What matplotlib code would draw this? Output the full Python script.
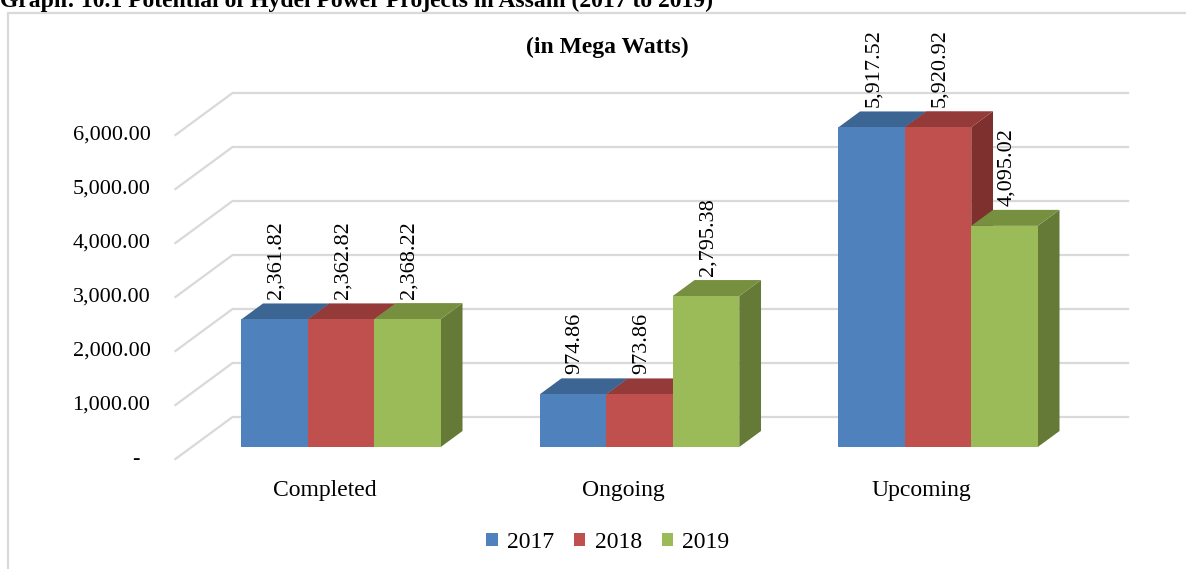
import matplotlib
matplotlib.use('Agg')
import matplotlib.pyplot as plt
from matplotlib.patches import Polygon, Patch, Rectangle

plt.rcParams['font.family'] = ['Liberation Serif', 'DejaVu Serif']

# ---------------- data ----------------
categories = ['Completed', 'Ongoing', 'Upcoming']
years = ['2017', '2018', '2019']
mw_2017 = [2361.82, 974.86, 5917.52]
mw_2018 = [2362.82, 973.86, 5920.92]
mw_2019 = [2368.22, 2795.38, 4095.02]
yticks = [0, 1000, 2000, 3000, 4000, 5000, 6000]

series = [mw_2017, mw_2018, mw_2019]
front_c = ['#4F81BD', '#C0504D', '#9BBB59']
top_c = ['#3D6594', '#943A38', '#77903F']
side_c = ['#34557E', '#7E302E', '#657A37']

# pseudo-3d geometry (pixel based)
W, H = 1186, 569
sx = 298.5          # px per category
sy = 0.054          # px per MW
x0px, y0px = 341, 447

def P(c, v, t):
    # shift a point by depth t (px up), 1.36 px right per px up
    return (c + 1.36 * t / sx, v + t / sy)

fig = plt.figure(figsize=(W / 100, H / 100), dpi=100)
ax = fig.add_axes([0, 0, 1, 1])
ax.set_xlim(-x0px / sx, (W - x0px) / sx)
ax.set_ylim(-(H - y0px) / sy, y0px / sy)
ax.axis('off')

grid_col = '#D9D9D9'
t_front, t_bar, t_back = -12, 16, 30
cl, cr = -0.5, 2.5

# walls: diagonal on left side + back gridlines
for v in yticks:
    a = P(cl, v, t_front); b = P(cl, v, t_back); c = P(cr, v, t_back)
    ax.plot([a[0], b[0], c[0]], [a[1], b[1], c[1]], color=grid_col, lw=1.6, zorder=1)
    lp = P(cl, v, t_front)
    if v == 0:
        ax.text(lp[0] - 36 / sx, lp[1], '-', ha='right', va='center', fontsize=16, zorder=5)
    else:
        ax.text(lp[0] - 25 / sx, lp[1], f'{v:,.2f}', ha='right', va='center', fontsize=16, zorder=5)

# bars
bw = 0.2228
for i, cat in enumerate(categories):
    left = i - 1.5 * bw
    for j in range(3):
        v = series[j][i]
        x1, x2 = left + j * bw, left + (j + 1) * bw
        front = [(x1, 0), (x2, 0), (x2, v), (x1, v)]
        top = [(x1, v), (x2, v), P(x2, v, t_bar), P(x1, v, t_bar)]
        side = [(x2, 0), P(x2, 0, t_bar), P(x2, v, t_bar), (x2, v)]
        z = 3 + j * 0.1
        ax.add_patch(Polygon(side, closed=True, fc=side_c[j], ec='none', zorder=z))
        ax.add_patch(Polygon(top, closed=True, fc=top_c[j], ec='none', zorder=z))
        ax.add_patch(Polygon(front, closed=True, fc=front_c[j], ec='none', zorder=z))
        lp = P(0, v, t_bar)
        ax.text((x1 + x2) / 2 + 2 / sx, lp[1] + 4 / sy, f'{v:,.2f}', rotation=90,
                ha='center', va='bottom', fontsize=16, zorder=6)
    cp = P(i, -590, t_front)
    ax.text(cp[0], cp[1], cat, ha='center', va='center', fontsize=17, zorder=6)

# titles
fig.text(607 / W, 1 - 47 / H, '(in Mega Watts)', ha='center', va='center',
         fontsize=17, fontweight='bold')
fig.text(0, 1 - 7 / H, 'Graph: 10.1 Potential of Hydel Power Projects in Assam (2017 to 2019)',
         ha='left', va='baseline', fontsize=17, fontweight='bold')

# outer chart border
fig.add_artist(Rectangle((8 / W, -0.1), 1.2, 1 - 13 / H + 0.1, transform=fig.transFigure,
                         fill=False, ec=grid_col, lw=1.6, clip_on=False))

handles = [Patch(fc=front_c[k], ec='none', label=years[k]) for k in range(3)]
fig.legend(handles=handles, loc='center', bbox_to_anchor=(608 / W, 1 - 542 / H), ncol=3,
           frameon=False, fontsize=17, handlelength=0.47, handleheight=0.47,
           handletextpad=0.4, columnspacing=0.85)

fig.savefig('out.png', dpi=100)
